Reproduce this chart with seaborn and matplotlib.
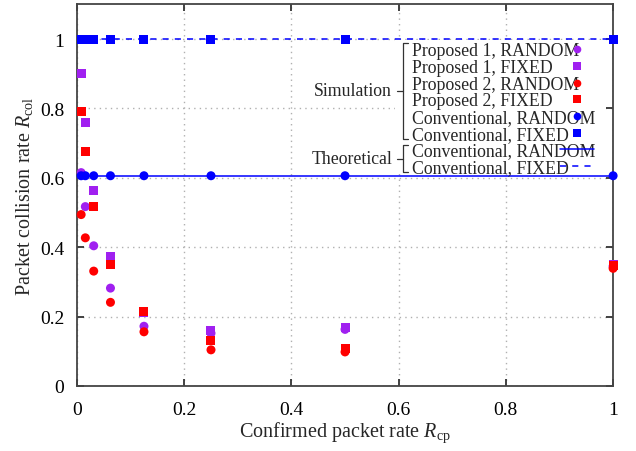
import numpy as np
import pandas as pd
import matplotlib
matplotlib.use("Agg")
import matplotlib.pyplot as plt
import seaborn as sns
from matplotlib.lines import Line2D
from matplotlib.patches import Rectangle

# Confirmed packet rate R_cp
r_cp = [1/128, 1/64, 1/32, 1/16, 1/8, 1/4, 1/2, 1.0]

# Simulation results (packet collision rate R_col)
prop1_random = [0.615, 0.517, 0.404, 0.282, 0.172, 0.152, 0.163, 0.345]
prop1_fixed = [0.900, 0.760, 0.563, 0.373, 0.212, 0.159, 0.169, 0.350]
prop2_random = [0.494, 0.427, 0.331, 0.241, 0.156, 0.104, 0.098, 0.339]
prop2_fixed = [0.790, 0.675, 0.517, 0.350, 0.214, 0.131, 0.107, 0.346]
conv_random = [0.606, 0.606, 0.606, 0.606, 0.606, 0.606, 0.606, 0.606]
conv_fixed = [1.0, 1.0, 1.0, 1.0, 1.0, 1.0, 1.0, 1.0]

# Theoretical values
theory_x = [0.0, 1.0]
theory_random = [0.6065, 0.6065]
theory_fixed = [1.0, 1.0]

sim_labels = ["Proposed 1, RANDOM", "Proposed 1, FIXED", "Proposed 2, RANDOM",
              "Proposed 2, FIXED", "Conventional, RANDOM", "Conventional, FIXED"]
theory_labels = ["Conventional, RANDOM", "Conventional, FIXED"]

purple, red, blue = "#a020f0", "#ff0000", "#0000ff"
sim_colors = [purple, purple, red, red, blue, blue]
sim_markers = ["o", "s", "o", "s", "o", "s"]

# Style
sns.set_theme(style="ticks")
plt.rcParams["font.family"] = ["Liberation Serif", "DejaVu Serif"]
plt.rcParams["mathtext.fontset"] = "custom"
plt.rcParams["mathtext.rm"] = "Liberation Serif"
plt.rcParams["mathtext.it"] = "Liberation Serif:italic"

# long-form data, drawn purple -> red -> blue
series = [prop1_random, prop1_fixed, prop2_random, prop2_fixed, conv_random, conv_fixed]
df = pd.concat([
    pd.DataFrame({"R_cp": r_cp, "R_col": vals, "series": lab})
    for vals, lab in zip(series, sim_labels)
], ignore_index=True)

fig = plt.figure(figsize=(6.36, 4.52), dpi=100)
ax = fig.add_axes([0.121, 0.144, 0.843, 0.844])


def px(x, y):
    # figure pixel (from top-left) -> figure fraction
    return x / 636, 1 - y / 452


# Theoretical lines
ax.plot(theory_x, theory_random, color=blue, lw=1.1, zorder=2)
ax.plot(theory_x, theory_fixed, color=blue, lw=1.1, ls=(0, (4, 4)), zorder=2)

sns.scatterplot(data=df, x="R_cp", y="R_col", hue="series", style="series",
                palette=dict(zip(sim_labels, sim_colors)),
                markers=dict(zip(sim_labels, sim_markers)),
                s=42, linewidth=0, legend=False, ax=ax, zorder=3)
for coll in ax.collections:
    coll.set_clip_on(False)

ax.set_xlim(0, 1)
ax.set_ylim(0, 1.1)
ax.set_xticks([0, 0.2, 0.4, 0.6, 0.8, 1.0])
ax.set_xticklabels(["0", "0.2", "0.4", "0.6", "0.8", "1"])
ax.set_yticks([0, 0.2, 0.4, 0.6, 0.8, 1.0])
ax.set_yticklabels(["0", "0.2", "0.4", "0.6", "0.8", "1"])
ax.grid(True, linestyle=(0, (1, 3)), color="#b0b0b0", lw=1)
ax.set_axisbelow(True)
ax.tick_params(direction="in", length=5, width=1.3, top=True, right=True,
               labelsize=14, colors="#333333", labelcolor="black")
ax.tick_params(axis="x", pad=11)
ax.tick_params(axis="y", pad=9)
for sp in ax.spines.values():
    sp.set_color("#444444")
    sp.set_linewidth(1.3)

ax.set_xlabel(r"Confirmed packet rate $R_{\mathrm{cp}}$", fontsize=14.5, labelpad=1)
ax.set_ylabel(r"Packet collision rate $R_{\mathrm{col}}$", fontsize=14.5, labelpad=4)

# white background behind the legend block
x0, y0 = px(395, 174)
x1, y1 = px(606, 41)
ax.add_patch(Rectangle((x0, y0), x1 - x0, y1 - y0, transform=fig.transFigure,
                       facecolor="white", edgecolor="none", zorder=1.5))

# Legend: left-aligned labels, markers in a column to the right
all_labels = sim_labels + theory_labels
handles = [Line2D([], [], ls="none", marker=m, color=c, markersize=5.5, markeredgewidth=0)
           for m, c in zip(sim_markers, sim_colors)]
handles += [Line2D([], [], color=blue, lw=1.1),
            Line2D([], [], color=blue, lw=1.1, ls=(0, (4, 4)))]
blank = [Line2D([], [], ls="none") for _ in all_labels]

leg_kw = dict(loc="upper left", bbox_transform=fig.transFigure, fontsize=12.8,
              labelspacing=-0.02, borderpad=0, borderaxespad=0, frameon=False)
leg_text = ax.legend(blank, all_labels, bbox_to_anchor=px(412, 43.5),
                     handlelength=0, handletextpad=0, **leg_kw)
ax.add_artist(leg_text)
leg_marks = ax.legend(handles, [" "] * len(all_labels), bbox_to_anchor=px(560, 43.5),
                      handlelength=1.9, handletextpad=0, **leg_kw)


def bracket(xb, y_top, y_bot, y_mid):
    xs = [xb + 5, xb, xb, xb + 5]
    ys = [y_top, y_top, y_bot, y_bot]
    pts = [px(a, b) for a, b in zip(xs, ys)]
    fig.add_artist(Line2D([p[0] for p in pts], [p[1] for p in pts],
                          transform=fig.transFigure, color="#333333", lw=0.9, zorder=6))
    p1, p2 = px(xb - 6, y_mid), px(xb, y_mid)
    fig.add_artist(Line2D([p1[0], p2[0]], [p1[1], p2[1]],
                          transform=fig.transFigure, color="#333333", lw=0.9, zorder=6))


bracket(403, 44, 140, 92)
bracket(403, 146, 173, 160)
fig.text(*px(392, 92), "Simulation", ha="right", va="center", fontsize=12.8, zorder=6)
fig.text(*px(392, 160), "Theoretical", ha="right", va="center", fontsize=12.8, zorder=6)

fig.savefig("out.png", dpi=100)
